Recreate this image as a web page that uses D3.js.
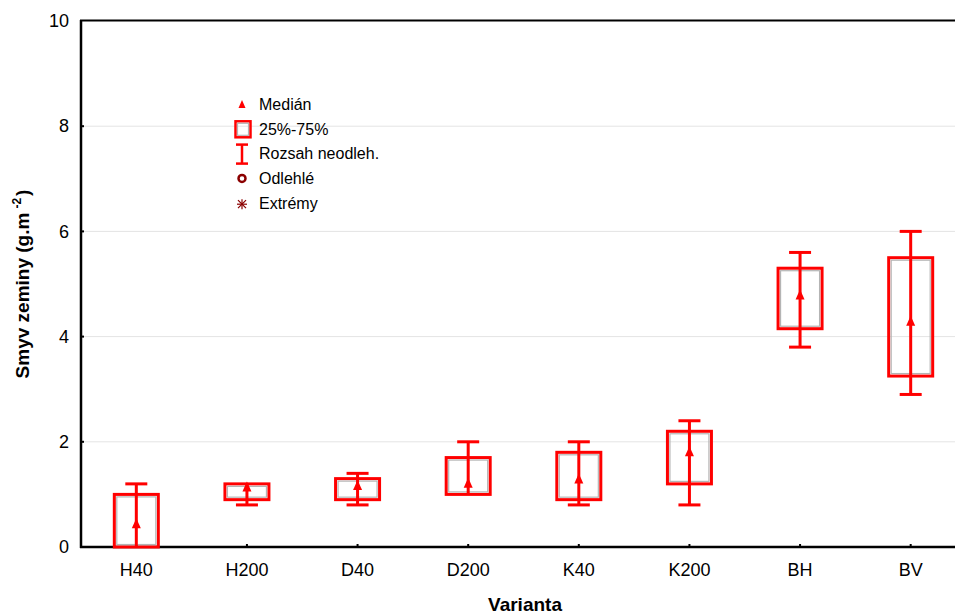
<!DOCTYPE html>
<html>
<head>
<meta charset="utf-8">
<script src="https://cdn.jsdelivr.net/npm/d3@7/dist/d3.min.js"></script>
<style>
  html, body { margin: 0; padding: 0; background: #fff; }
  svg { display: block; font-family: "Liberation Sans", Arial, sans-serif; }
</style>
</head>
<body>
<svg id="chart" width="955" height="615"></svg>
<script>
// Soil loss per variant: whisker range, quartile box and median
const categories = ["H40", "H200", "D40", "D200", "K40", "K200", "BH", "BV"];
const minValues  = [0.0, 0.8, 0.8, 1.0, 0.8, 0.8, 3.8, 2.9];
const q1Values   = [0.0, 0.9, 0.9, 1.0, 0.9, 1.2, 4.15, 3.25];
const medians    = [0.45, 1.15, 1.18, 1.22, 1.3, 1.82, 4.8, 4.3];
const q3Values   = [1.0, 1.2, 1.3, 1.7, 1.8, 2.2, 5.3, 5.5];
const maxValues  = [1.2, 1.2, 1.4, 2.0, 2.0, 2.4, 5.6, 6.0];
const yTicks     = [0, 2, 4, 6, 8, 10];
const legendItems = ["Medián", "25%-75%", "Rozsah neodleh.", "Odlehlé", "Extrémy"];

const data = categories.map((c, i) => ({
  cat: c, min: minValues[i], q1: q1Values[i], med: medians[i], q3: q3Values[i], max: maxValues[i]
}));

const RED = "#ff0000";
const DARK = "#8b0000";
const FONT = "Liberation Sans, Arial, sans-serif";
const svg = d3.select("#chart");

const x = d3.scaleBand().domain(categories).range([81, 966]);
const y = d3.scaleLinear().domain([0, 10]).range([547, 21]);
const cx = d => x(d) + x.bandwidth() / 2;

// grid lines
svg.append("g").selectAll("line")
  .data(yTicks.filter(t => t > 0 && t < 10))
  .join("line")
  .attr("x1", 82).attr("x2", 955)
  .attr("y1", d => y(d)).attr("y2", d => y(d))
  .attr("stroke", "#e4e4e4").attr("stroke-width", 1);

// y axis
const yAxis = svg.append("g").attr("transform", "translate(81,0)")
  .call(d3.axisLeft(y).tickValues(yTicks).tickSize(0).tickPadding(12));
yAxis.select(".domain").remove();
yAxis.selectAll("text").attr("font-size", 18).attr("fill", "#000").attr("font-family", FONT);

// x axis
const xAxis = svg.append("g").attr("transform", "translate(0,547)")
  .call(d3.axisBottom(x).tickSize(0).tickPadding(16));
xAxis.select(".domain").remove();
xAxis.selectAll("text").attr("font-size", 18).attr("fill", "#000").attr("font-family", FONT);

// small tick dots on the axes
svg.append("g").selectAll("rect").data(yTicks.slice(1, -1)).join("rect")
  .attr("x", 81).attr("y", d => y(d) - 1).attr("width", 3).attr("height", 2).attr("fill", "#000");
svg.append("g").selectAll("rect").data(categories).join("rect")
  .attr("x", d => cx(d) - 1).attr("y", 544).attr("width", 2).attr("height", 3).attr("fill", "#000");

// frame: left, bottom, top
svg.append("line").attr("x1", 81).attr("x2", 81).attr("y1", 20).attr("y2", 548)
  .attr("stroke", "#000").attr("stroke-width", 2.5);
svg.append("line").attr("x1", 80).attr("x2", 955).attr("y1", 547).attr("y2", 547)
  .attr("stroke", "#000").attr("stroke-width", 2.5);
svg.append("line").attr("x1", 80).attr("x2", 955).attr("y1", 20.5).attr("y2", 20.5)
  .attr("stroke", "#000").attr("stroke-width", 2);

// boxes
const boxW = 44, capW = 22;
const g = svg.append("g").selectAll("g").data(data).join("g");

g.append("rect")
  .attr("x", d => cx(d.cat) - boxW / 2)
  .attr("y", d => y(d.q3))
  .attr("width", boxW)
  .attr("height", d => Math.max(0, y(d.q1) - y(d.q3)))
  .attr("fill", "none").attr("stroke", RED).attr("stroke-width", 3);
g.append("rect")
  .attr("x", d => cx(d.cat) - boxW / 2 + 2.5)
  .attr("y", d => y(d.q3) + 2.5)
  .attr("width", boxW - 5)
  .attr("height", d => Math.max(0, y(d.q1) - y(d.q3) - 5))
  .attr("fill", "none").attr("stroke", "#b4b4b4").attr("stroke-width", 1.2);

// whisker line through the box
g.append("line")
  .attr("x1", d => cx(d.cat)).attr("x2", d => cx(d.cat))
  .attr("y1", d => y(d.min)).attr("y2", d => y(d.max))
  .attr("stroke", RED).attr("stroke-width", 3);

// whisker caps (only where the whisker extends past the box)
g.filter(d => d.max > d.q3).append("line")
  .attr("x1", d => cx(d.cat) - capW / 2).attr("x2", d => cx(d.cat) + capW / 2)
  .attr("y1", d => y(d.max)).attr("y2", d => y(d.max))
  .attr("stroke", RED).attr("stroke-width", 3);
g.filter(d => d.min < d.q1).append("line")
  .attr("x1", d => cx(d.cat) - capW / 2).attr("x2", d => cx(d.cat) + capW / 2)
  .attr("y1", d => y(d.min)).attr("y2", d => y(d.min))
  .attr("stroke", RED).attr("stroke-width", 3);

// median triangles
const tri = (px, py, w, h) => `M${px},${py - h / 2}L${px + w / 2},${py + h / 2}L${px - w / 2},${py + h / 2}Z`;
g.append("path")
  .attr("d", d => tri(cx(d.cat), y(d.med), 9, 10))
  .attr("fill", RED);

// legend
const lx = 242, ly0 = 104, dy = 24.8;
const leg = svg.append("g");
leg.append("path").attr("d", tri(lx, ly0, 7, 8)).attr("fill", RED);
leg.append("rect").attr("x", lx - 6.5).attr("y", ly0 + dy - 7.5).attr("width", 15).attr("height", 16)
  .attr("fill", "none").attr("stroke", RED).attr("stroke-width", 2.5);
leg.append("rect").attr("x", lx - 4.5).attr("y", ly0 + dy - 5.5).attr("width", 11).attr("height", 12)
  .attr("fill", "none").attr("stroke", "#b4b4b4").attr("stroke-width", 1.2);
leg.append("line").attr("x1", lx).attr("x2", lx).attr("y1", ly0 + 2 * dy - 9).attr("y2", ly0 + 2 * dy + 10)
  .attr("stroke", RED).attr("stroke-width", 2.5);
leg.append("line").attr("x1", lx - 6).attr("x2", lx + 6).attr("y1", ly0 + 2 * dy - 9).attr("y2", ly0 + 2 * dy - 9)
  .attr("stroke", RED).attr("stroke-width", 2.5);
leg.append("line").attr("x1", lx - 6).attr("x2", lx + 6).attr("y1", ly0 + 2 * dy + 10).attr("y2", ly0 + 2 * dy + 10)
  .attr("stroke", RED).attr("stroke-width", 2.5);
leg.append("circle").attr("cx", lx).attr("cy", ly0 + 3 * dy).attr("r", 3.5)
  .attr("fill", "none").attr("stroke", DARK).attr("stroke-width", 2.5);
const ay = ly0 + 4 * dy + 1;
[[0, -5, 0, 5], [-5, 0, 5, 0], [-4, -4, 4, 4], [-4, 4, 4, -4]].forEach(s => {
  leg.append("line").attr("x1", lx + s[0]).attr("y1", ay + s[1]).attr("x2", lx + s[2]).attr("y2", ay + s[3])
    .attr("stroke", DARK).attr("stroke-width", 1.2);
});
leg.selectAll("text").data(legendItems).join("text")
  .attr("x", 259).attr("y", (d, i) => ly0 + i * dy)
  .attr("dy", "0.36em").attr("font-size", 16).attr("fill", "#000")
  .text(d => d);

// axis titles
const yl = svg.append("text")
  .attr("transform", "translate(29,284) rotate(-90)")
  .attr("text-anchor", "middle").attr("font-size", 19).attr("font-weight", "bold").attr("fill", "#000");
yl.append("tspan").text("Smyv zeminy (g.m");
yl.append("tspan").attr("dx", 4).attr("dy", -8).attr("font-size", 12).text("-2");
yl.append("tspan").attr("dx", 2).attr("dy", 8).text(")");

svg.append("text").attr("x", 525).attr("y", 611)
  .attr("text-anchor", "middle").attr("font-size", 19).attr("font-weight", "bold").attr("fill", "#000")
  .text("Varianta");
</script>
</body>
</html>
